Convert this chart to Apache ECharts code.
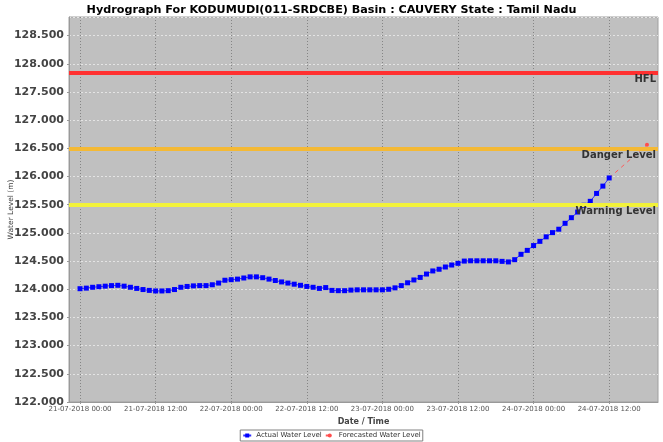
<!DOCTYPE html>
<html>
<head>
<meta charset="utf-8">
<title>Hydrograph KODUMUDI</title>
<script src="https://cdn.jsdelivr.net/npm/echarts@6/dist/echarts.min.js"></script>
<style>
  html, body { margin: 0; padding: 0; background: #fff; }
  #main { width: 663px; height: 442px; }
</style>
</head>
<body>
<div id="main"></div>
<script>
// hourly readings, first one at 21-07-2018 00:00
const startTime = Date.UTC(2018, 6, 21, 0, 0);
const HOUR = 3600 * 1000;

const actualLevels = [
  124.01, 124.02, 124.035, 124.045, 124.055, 124.065, 124.07, 124.055, 124.035, 124.015,
  123.995, 123.98, 123.97, 123.97, 123.975, 123.995, 124.035, 124.05, 124.06, 124.065,
  124.065, 124.08, 124.11, 124.16, 124.17, 124.18, 124.2, 124.22, 124.22, 124.205,
  124.18, 124.155, 124.13, 124.11, 124.09, 124.07, 124.05, 124.035, 124.015, 124.03,
  123.98, 123.975, 123.975, 123.985, 123.99, 123.99, 123.99, 123.99, 123.99, 124.0,
  124.025, 124.065, 124.115, 124.165, 124.21, 124.27, 124.325, 124.355, 124.395, 124.43,
  124.46, 124.5, 124.505, 124.505, 124.505, 124.505, 124.505, 124.495, 124.485, 124.525,
  124.62, 124.69, 124.775, 124.85, 124.93, 125.005, 125.065, 125.17, 125.27, 125.37,
  125.49, 125.56, 125.70, 125.83, 125.975
];

// forecast: hours after start, level
const forecastHours = [84, 90];
const forecastLevels = [125.975, 126.565];

const levelNames = ['HFL', 'Danger Level', 'Warning Level'];
const levelValues = [127.84, 126.5, 125.5];
const levelColors = ['#ff3030', '#f4b935', '#f2f23a'];

const xTickLabels = [
  '21-07-2018 00:00', '21-07-2018 12:00', '22-07-2018 00:00', '22-07-2018 12:00',
  '23-07-2018 00:00', '23-07-2018 12:00', '24-07-2018 00:00', '24-07-2018 12:00'
];

function parseLabel(s) {
  const d = s.split(' ')[0].split('-');
  const t = s.split(' ')[1].split(':');
  return Date.UTC(+d[2], +d[1] - 1, +d[0], +t[0], +t[1]);
}
function pad(n) { return (n < 10 ? '0' : '') + n; }
function fmtTime(v) {
  const d = new Date(v);
  return pad(d.getUTCDate()) + '-' + pad(d.getUTCMonth() + 1) + '-' + d.getUTCFullYear() +
    ' ' + pad(d.getUTCHours()) + ':' + pad(d.getUTCMinutes());
}

const tickTimes = xTickLabels.map(parseLabel);
const actualData = actualLevels.map((v, i) => [startTime + i * HOUR, v]);
const forecastData = forecastLevels.map((v, i) => [startTime + forecastHours[i] * HOUR, v]);

const xMin = startTime - 1.75 * HOUR;
const xMax = forecastData[forecastData.length - 1][0] + 1.75 * HOUR;

var myChart = echarts.init(document.getElementById('main'));
var option = {
  animation: false,
  backgroundColor: '#ffffff',
  textStyle: { fontFamily: 'DejaVu Sans' },
  title: {
    text: 'Hydrograph For KODUMUDI(011-SRDCBE) Basin : CAUVERY State : Tamil Nadu',
    left: 'center',
    top: 0,
    textStyle: { fontSize: 11.2, fontWeight: 'bold', color: '#000' }
  },
  legend: {
    bottom: 1,
    left: 'center',
    itemWidth: 8,
    itemHeight: 5,
    itemGap: 3,
    padding: [2, 2],
    borderColor: '#808080',
    borderWidth: 1,
    textStyle: { fontSize: 7, color: '#333' },
    data: ['Actual Water Level', 'Forecasted Water Level']
  },
  grid: {
    left: 69, right: 5, top: 17, bottom: 40,
    outerBoundsMode: 'none',
    containLabel: false,
    show: true,
    backgroundColor: '#c0c0c0',
    borderColor: '#a0a0a0',
    borderWidth: 1
  },
  xAxis: {
    type: 'value',
    min: xMin,
    max: xMax,
    name: 'Date / Time',
    nameLocation: 'middle',
    nameGap: 16,
    nameMoveOverlap: false,
    nameTextStyle: { fontSize: 8, fontWeight: 'bold', color: '#444' },
    axisLine: { show: true, lineStyle: { color: '#999' } },
    axisTick: { show: true, length: 2, customValues: tickTimes, lineStyle: { color: '#999' } },
    axisLabel: {
      customValues: tickTimes,
      formatter: fmtTime,
      fontSize: 7,
      color: '#555',
      margin: 4
    },
    splitLine: { show: true, lineStyle: { color: '#858585', type: [1, 2], width: 1 } }
  },
  yAxis: {
    type: 'value',
    min: 122,
    max: 128.83,
    interval: 0.5,
    name: 'Water Level (m)',
    nameLocation: 'middle',
    nameGap: 54,
    nameMoveOverlap: false,
    nameTextStyle: { fontSize: 7.5, color: '#444' },
    axisLine: { show: true, lineStyle: { color: '#999' } },
    axisTick: { show: true, length: 2, lineStyle: { color: '#999' } },
    axisLabel: {
      showMaxLabel: false,
      formatter: v => v.toFixed(3),
      fontSize: 11,
      fontWeight: 'bold',
      color: '#444',
      margin: 5
    },
    splitLine: { show: true, lineStyle: { color: '#e4e4e4', type: [2, 2], width: 1 } }
  },
  series: [
    {
      name: 'Forecasted Water Level',
      type: 'line',
      data: forecastData,
      z: 2,
      symbol: 'circle',
      symbolSize: 4,
      itemStyle: { color: '#ff4d4d' },
      lineStyle: { color: '#ff5a5a', width: 1, type: [4, 4] }
    },
    {
      name: 'Actual Water Level',
      type: 'line',
      data: actualData,
      z: 3,
      symbol: 'rect',
      symbolSize: 5,
      itemStyle: { color: '#0000ff' },
      lineStyle: { color: '#3030ff', width: 1 },
      markLine: {
        silent: true,
        symbol: 'none',
        animation: false,
        data: levelNames.map((n, i) => ({
          name: n,
          yAxis: levelValues[i],
          lineStyle: { color: levelColors[i], width: 4, type: 'solid' }
        })),
        label: {
          show: true,
          position: 'insideEndBottom',
          formatter: '{b}',
          distance: [2, 2],
          fontSize: 10,
          fontWeight: 'bold',
          color: '#333'
        }
      }
    }
  ]
};
option && myChart.setOption(option);
</script>
</body>
</html>
